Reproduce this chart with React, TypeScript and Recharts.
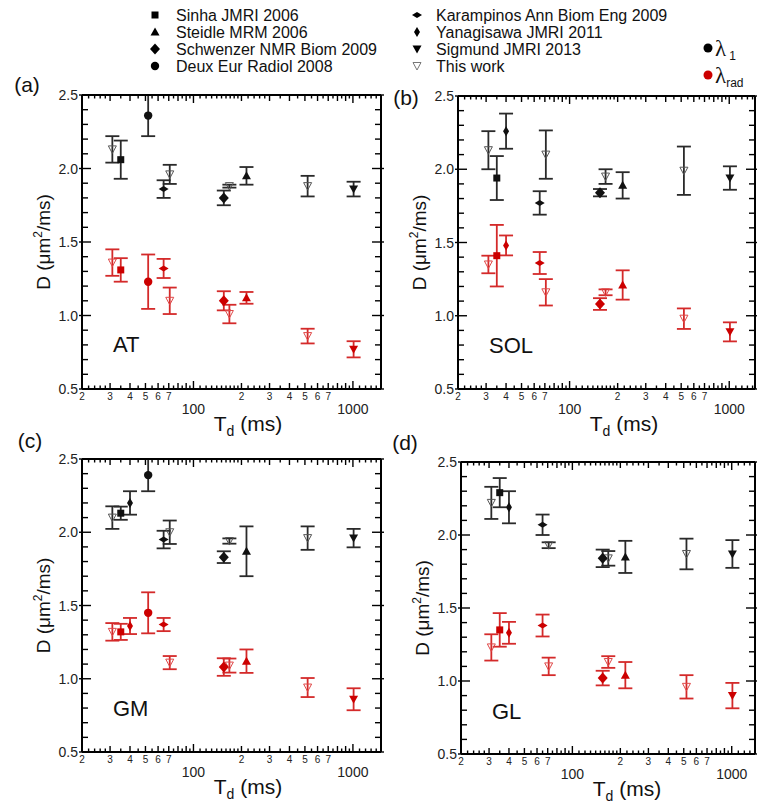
import React from 'react';
import { ScatterChart, Scatter, XAxis, YAxis, ErrorBar } from 'recharts';

// studies from the literature, same order everywhere below
const STUDIES = [
  'Sinha JMRI 2006',
  'Steidle MRM 2006',
  'Schwenzer NMR Biom 2009',
  'Deux Eur Radiol 2008',
  'Karampinos Ann Biom Eng 2009',
  'Yanagisawa JMRI 2011',
  'Sigmund JMRI 2013',
];
const STUDY_SHAPES = ['square', 'triangle', 'diamond', 'circle', 'flatDiamond', 'thinDiamond', 'downTriangle'];
const STUDY_TD = [35, 215, 155, 52, 65, 40, 1010];
const THIS_WORK_TD = [31, 71, 168, 520];

type Pt = [number, number] | null; // [mean, sd]

// AT
const AT_L1: Pt[] = [[2.06, 0.13], [1.95, 0.06], [1.8, 0.05], [2.36, 0.14], [1.86, 0.06], null, [1.86, 0.05]];
const AT_RAD: Pt[] = [[1.31, 0.08], [1.12, 0.04], [1.1, 0.065], [1.23, 0.185], [1.32, 0.065], null, [0.77, 0.055]];
const AT_THIS_L1: Pt[] = [[2.13, 0.09], [1.96, 0.065], [1.88, 0.01], [1.88, 0.07]];
const AT_THIS_RAD: Pt[] = [[1.36, 0.09], [1.1, 0.09], [1.01, 0.063], [0.86, 0.05]];

// SOL
const SOL_L1: Pt[] = [[1.94, 0.15], [1.89, 0.09], [1.84, 0.025], null, [1.77, 0.08], [2.26, 0.12], [1.94, 0.08]];
const SOL_RAD: Pt[] = [[1.41, 0.21], [1.21, 0.1], [1.08, 0.04], null, [1.36, 0.075], [1.48, 0.068], [0.89, 0.065]];
const SOL_THIS_L1: Pt[] = [[2.13, 0.13], [2.1, 0.165], [1.95, 0.05], [1.99, 0.165]];
const SOL_THIS_RAD: Pt[] = [[1.35, 0.06], [1.16, 0.09], [1.16, 0.02], [0.98, 0.07]];

// GM
const GM_L1: Pt[] = [[2.13, 0.045], [1.87, 0.17], [1.83, 0.04], [2.39, 0.11], [1.95, 0.06], [2.2, 0.08], [1.96, 0.063]];
const GM_RAD: Pt[] = [[1.32, 0.055], [1.12, 0.08], [1.08, 0.06], [1.45, 0.14], [1.37, 0.045], [1.36, 0.055], [0.86, 0.075]];
const GM_THIS_L1: Pt[] = [[2.1, 0.077], [2.0, 0.08], [1.94, 0.018], [1.96, 0.08]];
const GM_THIS_RAD: Pt[] = [[1.32, 0.06], [1.11, 0.045], [1.09, 0.048], [0.94, 0.065]];

// GL
const GL_L1: Pt[] = [[2.29, 0.1], [1.85, 0.11], [1.84, 0.06], null, [2.07, 0.07], [2.19, 0.11], [1.87, 0.095]];
const GL_RAD: Pt[] = [[1.35, 0.115], [1.04, 0.09], [1.02, 0.05], null, [1.38, 0.075], [1.33, 0.075], [0.9, 0.087]];
const GL_THIS_L1: Pt[] = [[2.22, 0.11], [1.93, 0.02], [1.84, 0.05], [1.87, 0.105]];
const GL_THIS_RAD: Pt[] = [[1.23, 0.09], [1.1, 0.06], [1.13, 0.04], [0.96, 0.08]];

// axis ticks
const X_MAJOR = [100, 1000];
const X_MEDIUM = [20, 30, 40, 50, 60, 70, 80, 90, 200, 300, 400, 500, 600, 700, 800, 900];
const X_SMALL = [22, 24, 26, 28, 35, 45, 55, 65, 75, 85, 95, 110, 120, 130, 140, 150, 160, 170, 180, 190,
  220, 240, 260, 280, 350, 450, 550, 650, 750, 850, 950, 1100, 1200, 1300, 1400];
const X_LABELS: Record<number, string> = { 20: '2', 30: '3', 40: '4', 50: '5', 60: '6', 70: '7', 200: '2', 300: '3', 400: '4', 500: '5', 600: '6', 700: '7' };
const Y_TICKS = [0.5, 0.6, 0.7, 0.8, 0.9, 1.0, 1.1, 1.2, 1.3, 1.4, 1.5, 1.6, 1.7, 1.8, 1.9, 2.0, 2.1, 2.2, 2.3, 2.4, 2.5];
const Y_LABELS: Record<string, string> = { '0.5': '0.5', '1': '1.0', '1.5': '1.5', '2': '2.0', '2.5': '2.5' };

const FONT = '"Liberation Sans", Arial, sans-serif';
const AXIS = '#000000';
const BLACK = '#111';
const RED = '#cc0000';
const ERR_BLACK = '#2a2a2a';
const ERR_RED = '#d42a2a';
const THIS_BLACK = '#555';
const THIS_RED = '#e04848';

// recharts default tick size + margin: tick props sit this far outside the axis line
const OFF = 8;

const PANELS = [
  { tag: '(a)', muscle: 'AT', l1: AT_L1, rad: AT_RAD, thisL1: AT_THIS_L1, thisRad: AT_THIS_RAD, left: 82, top: 95, w: 299, h: 294, xMax: 1500, tagX: 27, tagY: 92 },
  { tag: '(b)', muscle: 'SOL', l1: SOL_L1, rad: SOL_RAD, thisL1: SOL_THIS_L1, thisRad: SOL_THIS_RAD, left: 458, top: 96, w: 297, h: 293, xMax: 1450, tagX: 406, tagY: 105 },
  { tag: '(c)', muscle: 'GM', l1: GM_L1, rad: GM_RAD, thisL1: GM_THIS_L1, thisRad: GM_THIS_RAD, left: 82, top: 459, w: 299, h: 293, xMax: 1500, tagX: 30, tagY: 448 },
  { tag: '(d)', muscle: 'GL', l1: GL_L1, rad: GL_RAD, thisL1: GL_THIS_L1, thisRad: GL_THIS_RAD, left: 461, top: 462, w: 294, h: 292, xMax: 1400, tagX: 405, tagY: 450 },
];

function marker(shape: string, cx: number, cy: number, color: string) {
  switch (shape) {
    case 'square':
      return <rect x={cx - 3.5} y={cy - 3.5} width={7} height={7} fill={color} />;
    case 'triangle':
      return <polygon points={`${cx - 4.5},${cy + 3.5} ${cx + 4.5},${cy + 3.5} ${cx},${cy - 4.5}`} fill={color} />;
    case 'downTriangle':
      return <polygon points={`${cx - 4.5},${cy - 3.5} ${cx + 4.5},${cy - 3.5} ${cx},${cy + 4.5}`} fill={color} />;
    case 'diamond':
      return <polygon points={`${cx},${cy - 5.5} ${cx + 5},${cy} ${cx},${cy + 5.5} ${cx - 5},${cy}`} fill={color} />;
    case 'circle':
      return <circle cx={cx} cy={cy} r={4.2} fill={color} />;
    case 'flatDiamond':
      return <polygon points={`${cx - 5},${cy} ${cx},${cy - 3} ${cx + 5},${cy} ${cx},${cy + 3}`} fill={color} />;
    case 'thinDiamond':
      return <polygon points={`${cx},${cy - 5} ${cx + 3},${cy} ${cx},${cy + 5} ${cx - 3},${cy}`} fill={color} />;
    default:
      return <polygon points={`${cx - 4},${cy - 3.5} ${cx + 4},${cy - 3.5} ${cx},${cy + 4}`} fill="none" stroke={color} strokeWidth={1} />;
  }
}

const xLen = (v: number) => (X_MAJOR.includes(v) ? 8 : X_MEDIUM.includes(v) ? 6 : 3.5);
const isYMajor = (v: number) => Y_LABELS[String(v)] !== undefined;

const BottomTick = (p: any) => {
  const v = p.payload.value;
  const x = p.x;
  const y = p.y - OFF; // axis line
  return (
    <g>
      {X_LABELS[v] && (
        <text x={x} y={y + 11} textAnchor="middle" fontSize={10} fontFamily={FONT} fill="#222">{X_LABELS[v]}</text>
      )}
      {X_MAJOR.includes(v) && (
        <text x={x} y={y + 25} textAnchor="middle" fontSize={14} fontFamily={FONT} fill="#222">{v}</text>
      )}
    </g>
  );
};

const LeftTick = (p: any) => {
  const v = p.payload.value;
  if (!isYMajor(v)) return <g />;
  const x = p.x + OFF; // axis line
  return (
    <text x={x - 4} y={p.y + 5} textAnchor="end" fontSize={14} fontFamily={FONT} fill="#222">{Y_LABELS[String(v)]}</text>
  );
};

// frame with inward ticks on all four sides, in page coordinates of the plot box
const Frame = ({ cfg }: { cfg: (typeof PANELS)[number] }) => {
  const { left, top, w, h, xMax } = cfg;
  const px = (v: number) => left + (w * Math.log(v / 20)) / Math.log(xMax / 20);
  const py = (v: number) => top + (h * (2.5 - v)) / 2;
  const xs = [...X_MAJOR, ...X_MEDIUM, ...X_SMALL].filter((v) => v <= xMax);
  const bottom = top + h;
  const right = left + w;
  const t = { stroke: AXIS, strokeWidth: 1.4 };
  const edge = { stroke: AXIS, strokeWidth: 2 };
  return (
    <g>
      {xs.map((v) => (
        <g key={'x' + v}>
          <line x1={px(v)} x2={px(v)} y1={bottom} y2={bottom - xLen(v)} {...t} />
          <line x1={px(v)} x2={px(v)} y1={top} y2={top + xLen(v)} {...t} />
        </g>
      ))}
      {Y_TICKS.map((v) => {
        const m = isYMajor(v);
        return (
          <g key={'y' + v}>
            <line x1={m ? left - 3 : left} x2={left + (m ? 9 : 6)} y1={py(v)} y2={py(v)} {...t} />
            <line x1={m ? right + 3 : right} x2={right - (m ? 9 : 6)} y1={py(v)} y2={py(v)} {...t} />
          </g>
        );
      })}
      <line x1={left} x2={right} y1={top} y2={top} {...edge} />
      <line x1={left} x2={right} y1={bottom} y2={bottom} {...edge} />
      <line x1={left} x2={left} y1={top} y2={bottom} {...edge} />
      <line x1={right} x2={right} y1={top} y2={bottom} {...edge} />
    </g>
  );
};

const toRows = (tds: number[], vals: Pt[]) =>
  tds.map((td, i) => (vals[i] ? { td, d: vals[i]![0], err: vals[i]![1] } : null)).filter(Boolean) as any[];

const ML = 80;
const MT = 10;

const Panel = ({ cfg }: { cfg: (typeof PANELS)[number] }) => {
  const allX = [...X_MAJOR, ...X_MEDIUM].filter((v) => v <= cfg.xMax).sort((a, b) => a - b);
  const series: React.ReactNode[] = [];
  const add = (key: string, rows: any[], shape: string, color: string, errColor: string) => {
    if (!rows.length) return;
    series.push(
      <Scatter
        key={key}
        name={key}
        data={rows}
        xAxisId="b"
        yAxisId="l"
        isAnimationActive={false}
        shape={(p: any) => marker(shape, p.cx, p.cy, color)}
      >
        <ErrorBar dataKey="err" direction="y" width={7} stroke={errColor} strokeWidth={1.8} isAnimationActive={false} />
      </Scatter>
    );
  };
  // red (lambda_rad) first, black (lambda_1) on top
  add('this-rad', toRows(THIS_WORK_TD, cfg.thisRad), 'open', THIS_RED, ERR_RED);
  STUDIES.forEach((s, i) => add(s + '-rad', toRows([STUDY_TD[i]], [cfg.rad[i]]), STUDY_SHAPES[i], RED, ERR_RED));
  add('this-l1', toRows(THIS_WORK_TD, cfg.thisL1), 'open', THIS_BLACK, ERR_BLACK);
  STUDIES.forEach((s, i) => add(s + '-l1', toRows([STUDY_TD[i]], [cfg.l1[i]]), STUDY_SHAPES[i], BLACK, ERR_BLACK));

  return (
    <div style={{ position: 'absolute', left: cfg.left - ML, top: cfg.top - MT }}>
      <ScatterChart width={ML + cfg.w + 10} height={MT + cfg.h + 50} margin={{ top: MT, right: 10, bottom: 0, left: 0 }}>
        <XAxis xAxisId="b" dataKey="td" type="number" scale="log" domain={[20, cfg.xMax]}
          ticks={allX} interval={0} tickLine={false} axisLine={false} height={50} tick={BottomTick} />
        <YAxis yAxisId="l" dataKey="d" type="number" domain={[0.5, 2.5]}
          ticks={Y_TICKS} interval={0} tickLine={false} axisLine={false} width={ML} tick={LeftTick} />
        {series}
      </ScatterChart>
    </div>
  );
};

const LEGEND_ROWS = [15, 32, 49, 66];

export default function App() {
  return (
    <div style={{ position: 'absolute', left: 0, top: 0, width: 757, height: 804, fontFamily: FONT }}>
      {PANELS.map((cfg) => (
        <Panel key={cfg.tag} cfg={cfg} />
      ))}
      <svg width={757} height={804} style={{ position: 'absolute', left: 0, top: 0, pointerEvents: 'none' }}>
        {/* legend */}
        {STUDIES.map((s, i) => {
          const col = i < 4 ? 0 : 1;
          const row = i < 4 ? i : i - 4;
          const mx = col === 0 ? 155 : 417;
          const tx = col === 0 ? 176 : 436;
          const cy = LEGEND_ROWS[row];
          return (
            <g key={s}>
              {marker(STUDY_SHAPES[i], mx, cy, '#000')}
              <text x={tx} y={cy + 6} fontSize={16} fontFamily={FONT} fill="#111">{s}</text>
            </g>
          );
        })}
        {marker('open', 417, LEGEND_ROWS[3], '#777')}
        <text x={436} y={LEGEND_ROWS[3] + 6} fontSize={16} fontFamily={FONT} fill="#111">This work</text>

        <circle cx={708} cy={48} r={4.5} fill="#000" />
        <text x={715} y={56} fontSize={23} fontFamily='"Liberation Serif", serif' fill="#111">
          λ<tspan fontSize={12} fontFamily={FONT} dx={3} dy={4}>1</tspan>
        </text>
        <circle cx={708} cy={75} r={4.5} fill={RED} />
        <text x={715} y={83} fontSize={23} fontFamily='"Liberation Serif", serif' fill="#111">
          λ<tspan fontSize={12} fontFamily={FONT} dy={4}>rad</tspan>
        </text>

        {PANELS.map((cfg) => (
          <g key={cfg.tag}>
            <Frame cfg={cfg} />
            <text x={cfg.tagX} y={cfg.tagY} textAnchor="middle" fontSize={21} fontFamily={FONT} fill="#111">{cfg.tag}</text>
            <text x={cfg.left + 31} y={cfg.top + 257} fontSize={22} fontFamily={FONT} fill="#111">{cfg.muscle}</text>
            <text x={cfg.left + 166} y={cfg.top + cfg.h + 42} textAnchor="middle" fontSize={21} fontFamily={FONT} fill="#111">
              T<tspan fontSize={14} dy={5}>d</tspan><tspan dy={-5}> (ms)</tspan>
            </text>
            <text transform={`translate(${cfg.left - 32},${cfg.top + cfg.h / 2}) rotate(-90)`} textAnchor="middle" fontSize={19} fontFamily={FONT} fill="#111">
              D (μm<tspan fontSize={12} dy={-8}>2</tspan><tspan dy={8}>/ms)</tspan>
            </text>
          </g>
        ))}
      </svg>
    </div>
  );
}
